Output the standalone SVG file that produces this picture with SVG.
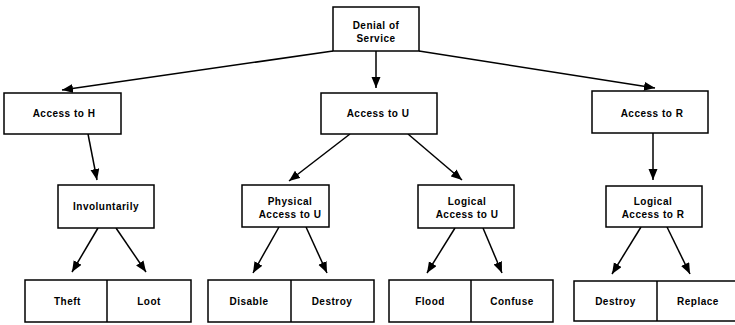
<svg xmlns="http://www.w3.org/2000/svg" width="735" height="325" viewBox="0 0 735 325">
  <style>
    .box { fill: #fff; stroke: #000; stroke-width: 1.5; }
    .div { stroke: #000; stroke-width: 1.5; }
    .lbl { font-family: "Liberation Sans", Arial, sans-serif; font-weight: bold; font-size: 10px; letter-spacing: 0.5px; text-anchor: middle; fill: #000; }
    .edge { stroke: #000; stroke-width: 1.5; fill: none; marker-end: url(#arrow); }
  </style>
  <defs>
    <marker id="arrow" markerUnits="userSpaceOnUse" markerWidth="12" markerHeight="10" refX="11" refY="4.5" orient="auto">
      <path d="M0,0 L11,4.5 L0,9 z" fill="#000"/>
    </marker>
  </defs>
  <rect width="735" height="325" fill="#fff"/>

  <g id="connectors">
    <line class="edge" x1="333" y1="51" x2="62" y2="90"/>
    <line class="edge" x1="376" y1="51" x2="376" y2="88"/>
    <line class="edge" x1="419" y1="51" x2="655" y2="88"/>
    <line class="edge" x1="88" y1="134" x2="97" y2="180"/>
    <line class="edge" x1="350" y1="134" x2="289" y2="181"/>
    <line class="edge" x1="408" y1="134" x2="462" y2="180"/>
    <line class="edge" x1="653" y1="133" x2="653" y2="180"/>
    <line class="edge" x1="98" y1="228" x2="72" y2="272"/>
    <line class="edge" x1="116" y1="228" x2="146" y2="272"/>
    <line class="edge" x1="279" y1="227" x2="253" y2="273"/>
    <line class="edge" x1="306" y1="227" x2="327" y2="273"/>
    <line class="edge" x1="455" y1="228" x2="427" y2="273"/>
    <line class="edge" x1="483" y1="228" x2="502" y2="273"/>
    <line class="edge" x1="641" y1="227" x2="612" y2="274"/>
    <line class="edge" x1="667" y1="227" x2="690" y2="274"/>
  </g>

  <g id="denial-of-service">
    <rect class="box" x="333" y="7" width="86" height="44"/>
    <text class="lbl" x="376" y="28.5">Denial of</text>
    <text class="lbl" x="376" y="41.5">Service</text>
  </g>

  <g id="access-h">
    <rect class="box" x="4" y="93" width="117" height="41"/>
    <text class="lbl" x="64" y="117">Access to H</text>
  </g>

  <g id="access-u">
    <rect class="box" x="321" y="93" width="116" height="41"/>
    <text class="lbl" x="378" y="117">Access to U</text>
  </g>

  <g id="access-r">
    <rect class="box" x="592" y="91" width="116" height="42"/>
    <text class="lbl" x="652" y="117">Access to R</text>
  </g>

  <g id="involuntarily">
    <rect class="box" x="58" y="185" width="96" height="43"/>
    <text class="lbl" x="106" y="210">Involuntarily</text>
  </g>

  <g id="physical-access-u">
    <rect class="box" x="242" y="185" width="87" height="42"/>
    <text class="lbl" x="290" y="205">Physical</text>
    <text class="lbl" x="290" y="218">Access to U</text>
  </g>

  <g id="logical-access-u">
    <rect class="box" x="418" y="185" width="96" height="43"/>
    <text class="lbl" x="467" y="205">Logical</text>
    <text class="lbl" x="467" y="218">Access to U</text>
  </g>

  <g id="logical-access-r">
    <rect class="box" x="606" y="186" width="96" height="41"/>
    <text class="lbl" x="653" y="205">Logical</text>
    <text class="lbl" x="653" y="218">Access to R</text>
  </g>

  <g id="theft-loot">
    <rect class="box" x="25" y="280" width="166" height="42"/>
    <line class="div" x1="107" y1="280" x2="107" y2="322"/>
    <text class="lbl" x="67.5" y="305">Theft</text>
    <text class="lbl" x="149" y="305">Loot</text>
  </g>

  <g id="disable-destroy">
    <rect class="box" x="208" y="280" width="166" height="42"/>
    <line class="div" x1="291" y1="280" x2="291" y2="322"/>
    <text class="lbl" x="249" y="305">Disable</text>
    <text class="lbl" x="332" y="305">Destroy</text>
  </g>

  <g id="flood-confuse">
    <rect class="box" x="389" y="280" width="164" height="42"/>
    <line class="div" x1="471" y1="280" x2="471" y2="322"/>
    <text class="lbl" x="430" y="305">Flood</text>
    <text class="lbl" x="512" y="305">Confuse</text>
  </g>

  <g id="destroy-replace">
    <rect class="box" x="574" y="281" width="170" height="40"/>
    <line class="div" x1="657" y1="281" x2="657" y2="321"/>
    <text class="lbl" x="615.5" y="305">Destroy</text>
    <text class="lbl" x="698" y="305">Replace</text>
  </g>
</svg>
